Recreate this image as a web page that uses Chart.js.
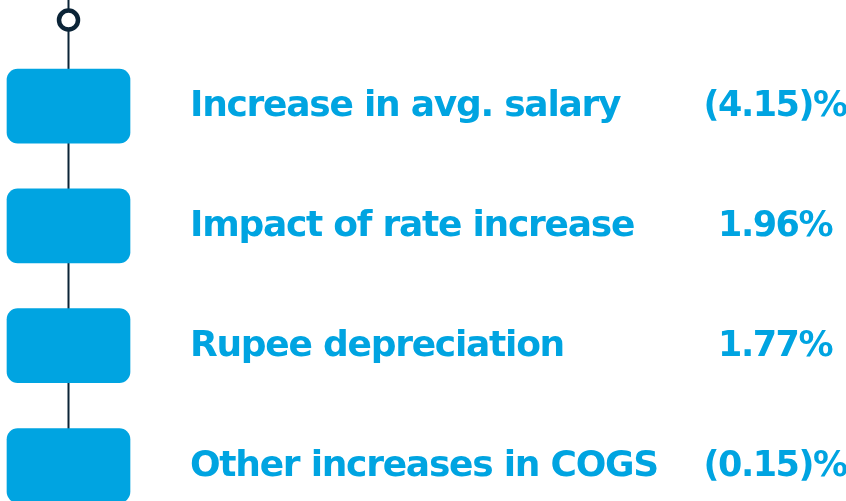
<!DOCTYPE html>
<html><head><meta charset="utf-8">
<script src="https://cdn.jsdelivr.net/npm/chart.js@4/dist/chart.umd.min.js"></script>
<style>html,body{margin:0;padding:0;background:#fff;overflow:hidden}#wrap{width:846px;height:501px}</style>
</head><body><div id="wrap"><canvas id="c" width="846" height="501"></canvas></div>
<script>
// ---- data ----
const categories = ["Increase in avg. salary", "Impact of rate increase", "Rupee depreciation", "Other increases in COGS"];
const impactValues = [-4.15, 1.96, 1.77, -0.15];

// ---- styling / layout constants ----
const BLUE = '#00a4e1';
const NAVY = '#0b2437';
const Y_MIN = -0.885, Y_MAX = 3.296;
const BOX_LEFT = 7, BOX_RIGHT = 130, SPINE_X = 68.5, NODE_Y = -0.718;
const LABEL_X = 190, VALUE_X = 775;
const LABEL_FONT = 'bold 36px "DejaVu Sans"';
const VALUE_FONT = 'bold 35px "DejaVu Sans"';

const fmt = v => v < 0 ? '(' + Math.abs(v).toFixed(2) + ')%' : v.toFixed(2) + '%';
const valueLabels = impactValues.map(fmt);

const textPlugin = {
  id: 'rowText',
  afterDatasetsDraw(chart) {
    const ctx = chart.ctx, ys = chart.scales.y;
    ctx.save();
    ctx.fillStyle = BLUE;
    ctx.textBaseline = 'middle';
    categories.forEach((c, i) => {
      const y = ys.getPixelForValue(i) + 1;
      ctx.font = LABEL_FONT;
      ctx.letterSpacing = '-1.25px';
      ctx.textAlign = 'left';
      ctx.fillText(c, LABEL_X, y);
      ctx.font = VALUE_FONT;
      ctx.letterSpacing = '-1.5px';
      ctx.textAlign = 'center';
      ctx.fillText(valueLabels[i], VALUE_X, y);
    });
    ctx.restore();
  }
};

new Chart(document.getElementById('c'), {
  type: 'bar',
  data: {
    datasets: [
      {
        type: 'scatter', order: 0, clip: false,
        data: [{x: SPINE_X, y: NODE_Y}],
        pointRadius: 9.5, pointBorderWidth: 4.5,
        pointBackgroundColor: '#ffffff', pointBorderColor: NAVY
      },
      {
        type: 'bar', order: 1, clip: false,
        data: categories.map((c, i) => ({x: [BOX_LEFT, BOX_RIGHT], y: i})),
        backgroundColor: BLUE, borderRadius: 11, borderSkipped: false,
        barThickness: 74
      },
      {
        type: 'line', order: 2, clip: false,
        data: [{x: SPINE_X, y: Y_MIN}, {x: SPINE_X, y: Y_MAX}],
        borderColor: NAVY, borderWidth: 2, pointRadius: 0
      }
    ]
  },
  options: {
    indexAxis: 'y',
    responsive: false, animation: false,
    layout: {padding: 0, autoPadding: false},
    scales: {
      x: {type: 'linear', min: 0, max: 846, display: false, offset: false},
      y: {type: 'linear', min: Y_MIN, max: Y_MAX, reverse: true, display: false, offset: false,
          ticks: {callback: (v) => categories[v] ?? ''}}
    },
    plugins: {legend: {display: false}, tooltip: {enabled: false}}
  },
  plugins: [textPlugin]
});
</script></body></html>
